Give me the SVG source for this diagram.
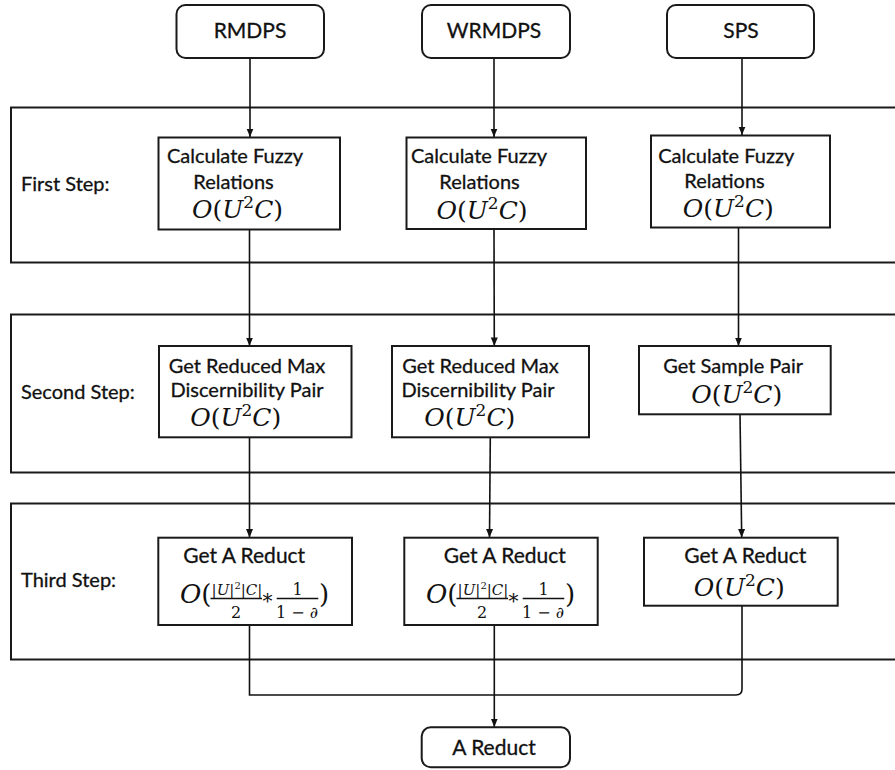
<svg xmlns="http://www.w3.org/2000/svg" width="895" height="770" viewBox="0 0 895 770">
<defs>
<marker id="arr" markerUnits="userSpaceOnUse" markerWidth="9" markerHeight="8" refX="8.5" refY="4" orient="auto">
<path d="M0,0.5 L8.5,4 L0,7.5 z" fill="#111"/>
</marker>
<style>
.panel{fill:none;stroke:#1a1a1a;stroke-width:2}
.box{fill:#fff;stroke:#1a1a1a;stroke-width:2}
.conn{fill:none;stroke:#111;stroke-width:1.6}
.lbl{font-family:Lato,"Open Sans",sans-serif;font-size:20px;fill:#111;stroke:#111;stroke-width:0.3}
.mid{text-anchor:middle}
.math{font-family:"DejaVu Serif","Liberation Serif",serif;font-size:25px;fill:#111}
.it{font-style:italic}
.fr{font-family:"DejaVu Serif","Liberation Serif",serif;font-size:16px;fill:#111}
.num{font-size:15px}
.bar{stroke:#111;stroke-width:1.3}
</style>
</defs>
<rect width="895" height="770" fill="#fff"/>

<g id="panels">
<rect class="panel" x="11" y="107.5" width="900" height="155"/>
<rect class="panel" x="11" y="314.5" width="900" height="158"/>
<rect class="panel" x="11" y="503.5" width="900" height="156"/>
<text class="lbl" x="21" y="191">First Step:</text>
<text class="lbl" x="21" y="399">Second Step:</text>
<text class="lbl" x="21" y="587">Third Step:</text>
</g>

<g id="connectors">
<line class="conn" x1="250" y1="58" x2="250" y2="137" marker-end="url(#arr)"/>
<line class="conn" x1="494" y1="58" x2="494" y2="137" marker-end="url(#arr)"/>
<line class="conn" x1="742" y1="58" x2="742" y2="135" marker-end="url(#arr)"/>
<line class="conn" x1="249.5" y1="229" x2="249.5" y2="346" marker-end="url(#arr)"/>
<line class="conn" x1="494" y1="229" x2="494.3" y2="346" marker-end="url(#arr)"/>
<line class="conn" x1="738.5" y1="227.5" x2="738.5" y2="346" marker-end="url(#arr)"/>
<line class="conn" x1="249.5" y1="437" x2="249.5" y2="537.5" marker-end="url(#arr)"/>
<line class="conn" x1="490.3" y1="437" x2="489.5" y2="537.5" marker-end="url(#arr)"/>
<line class="conn" x1="740" y1="414" x2="741.7" y2="537.5" marker-end="url(#arr)"/>
<path class="conn" d="M249.5,625 V695 H736 Q742,695 742,689 V605.5"/>
<line class="conn" x1="494.3" y1="625" x2="494.3" y2="727" marker-end="url(#arr)"/>
</g>

<g id="n-rmdps">
<rect class="box" x="176.5" y="5" width="147.5" height="53" rx="9"/>
<text class="lbl mid" x="250" y="38" style="font-size:21px">RMDPS</text>
</g>
<g id="n-wrmdps">
<rect class="box" x="422" y="5" width="148" height="53" rx="9"/>
<text class="lbl mid" x="494" y="38" style="font-size:21px">WRMDPS</text>
</g>
<g id="n-sps">
<rect class="box" x="667" y="5" width="147" height="53" rx="9"/>
<text class="lbl mid" x="741" y="38" style="font-size:21px">SPS</text>
</g>

<g id="n-fuzzy1">
<rect class="box" x="158.5" y="137.5" width="181.5" height="92"/>
<text class="lbl mid" x="235" y="163">Calculate Fuzzy</text>
<text class="lbl mid" x="233.5" y="189">Relations</text>
<text class="math mid" x="237.5" y="218"><tspan class="it">O</tspan>(<tspan class="it">U</tspan><tspan dy="-10" font-size="17">2</tspan><tspan dy="10" class="it">C</tspan>)</text>
</g>
<g id="n-fuzzy2">
<rect class="box" x="406.5" y="137.5" width="179.5" height="91.5"/>
<text class="lbl mid" x="479" y="163.3">Calculate Fuzzy</text>
<text class="lbl mid" x="479.5" y="189.3">Relations</text>
<text class="math mid" x="482" y="219"><tspan class="it">O</tspan>(<tspan class="it">U</tspan><tspan dy="-10" font-size="17">2</tspan><tspan dy="10" class="it">C</tspan>)</text>
</g>
<g id="n-fuzzy3">
<rect class="box" x="651" y="135.5" width="179" height="92"/>
<text class="lbl mid" x="726.3" y="162.7">Calculate Fuzzy</text>
<text class="lbl mid" x="724.5" y="188">Relations</text>
<text class="math mid" x="728.3" y="216.7"><tspan class="it">O</tspan>(<tspan class="it">U</tspan><tspan dy="-10" font-size="17">2</tspan><tspan dy="10" class="it">C</tspan>)</text>
</g>

<g id="n-pair1">
<rect class="box" x="159" y="346" width="192.5" height="91.3"/>
<text class="lbl mid" x="247" y="373.3">Get Reduced Max</text>
<text class="lbl mid" x="247" y="396.7">Discernibility Pair</text>
<text class="math mid" x="235.7" y="426"><tspan class="it">O</tspan>(<tspan class="it">U</tspan><tspan dy="-10" font-size="17">2</tspan><tspan dy="10" class="it">C</tspan>)</text>
</g>
<g id="n-pair2">
<rect class="box" x="392" y="346" width="197" height="91.3"/>
<text class="lbl mid" x="480.5" y="373.3">Get Reduced Max</text>
<text class="lbl mid" x="478" y="396.7">Discernibility Pair</text>
<text class="math mid" x="469.8" y="426"><tspan class="it">O</tspan>(<tspan class="it">U</tspan><tspan dy="-10" font-size="17">2</tspan><tspan dy="10" class="it">C</tspan>)</text>
</g>
<g id="n-sample">
<rect class="box" x="639" y="346" width="191.7" height="68.3"/>
<text class="lbl mid" x="733.2" y="372.7">Get Sample Pair</text>
<text class="math mid" x="736.7" y="403.3"><tspan class="it">O</tspan>(<tspan class="it">U</tspan><tspan dy="-10" font-size="17">2</tspan><tspan dy="10" class="it">C</tspan>)</text>
</g>

<g id="n-reduct1">
<rect class="box" x="158.3" y="537.7" width="193.7" height="87.3"/>
<text class="lbl mid" x="244.2" y="563.3" style="font-size:21px">Get A Reduct</text>
<text class="math" x="180" y="603.3" style="font-size:26px"><tspan class="it">O</tspan>(</text>
<text class="fr num mid" x="237" y="595"><tspan>|</tspan><tspan class="it">U</tspan><tspan>|</tspan><tspan dy="-6" font-size="10">2</tspan><tspan dy="6">|</tspan><tspan class="it">C</tspan><tspan>|</tspan></text>
<line class="bar" x1="210.5" y1="598.5" x2="262" y2="598.5"/>
<text class="fr mid" x="236" y="617.5">2</text>
<text class="fr mid" x="267.5" y="608" style="font-size:20px">*</text>
<text class="fr mid" x="297.5" y="595">1</text>
<line class="bar" x1="276.7" y1="598.5" x2="318.3" y2="598.5"/>
<text class="fr mid" x="297" y="617.5">1 − <tspan class="it">∂</tspan></text>
<text class="math" x="319" y="603.3" style="font-size:26px">)</text>
</g>
<g id="n-reduct2">
<rect class="box" x="404.3" y="537.7" width="193.4" height="87.3"/>
<text class="lbl mid" x="504.8" y="563.3" style="font-size:21px">Get A Reduct</text>
<text class="math" x="426" y="603.3" style="font-size:26px"><tspan class="it">O</tspan>(</text>
<text class="fr num mid" x="483" y="595"><tspan>|</tspan><tspan class="it">U</tspan><tspan>|</tspan><tspan dy="-6" font-size="10">2</tspan><tspan dy="6">|</tspan><tspan class="it">C</tspan><tspan>|</tspan></text>
<line class="bar" x1="456.5" y1="598.5" x2="508" y2="598.5"/>
<text class="fr mid" x="482" y="617.5">2</text>
<text class="fr mid" x="513.5" y="608" style="font-size:20px">*</text>
<text class="fr mid" x="543.5" y="595">1</text>
<line class="bar" x1="522.7" y1="598.5" x2="564.3" y2="598.5"/>
<text class="fr mid" x="543" y="617.5">1 − <tspan class="it">∂</tspan></text>
<text class="math" x="565" y="603.3" style="font-size:26px">)</text>
</g>
<g id="n-reduct3">
<rect class="box" x="644" y="537.7" width="193.7" height="68"/>
<text class="lbl mid" x="745.3" y="563.3" style="font-size:21px">Get A Reduct</text>
<text class="math mid" x="739.2" y="596"><tspan class="it">O</tspan>(<tspan class="it">U</tspan><tspan dy="-10" font-size="17">2</tspan><tspan dy="10" class="it">C</tspan>)</text>
</g>

<g id="n-result">
<rect class="box" x="421.7" y="727.3" width="148.3" height="40" rx="9"/>
<text class="lbl mid" x="494" y="755" style="font-size:21px">A Reduct</text>
</g>
</svg>
